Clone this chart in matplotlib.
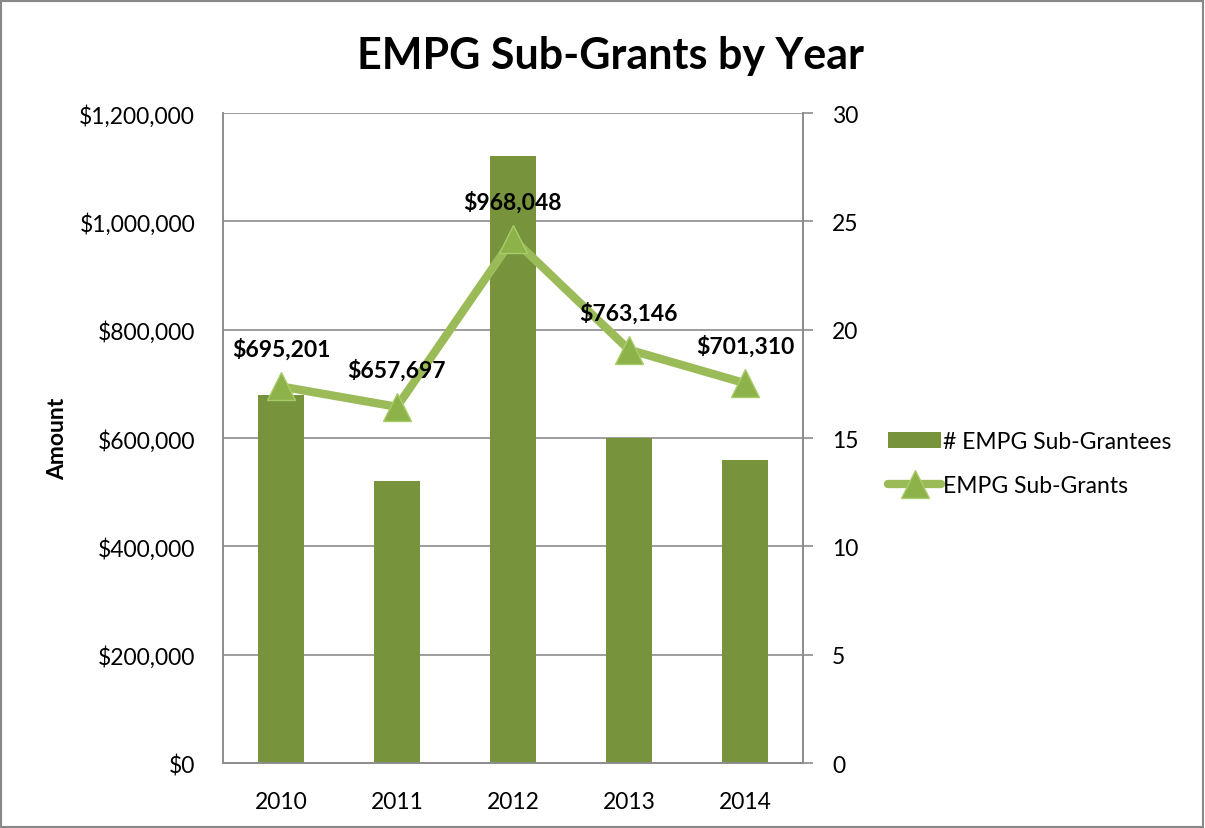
import matplotlib
matplotlib.use("Agg")
import matplotlib.pyplot as plt
from matplotlib.ticker import FuncFormatter

years = ["2010", "2011", "2012", "2013", "2014"]
grantees = [17, 13, 28, 15, 14]
amounts = [695201, 657697, 968048, 763146, 701310]

plt.rcParams["font.family"] = ["Lato", "DejaVu Sans"]
BAR = "#77933C"
LINE = "#9BBB59"
GRID = "#8C8C8C"

fig = plt.figure(figsize=(12.05, 8.29), dpi=100)
ax = fig.add_axes([0.185, 0.0784, 0.4813, 0.784])
ax2 = ax.twinx()

x = list(range(len(years)))

# bars on the secondary (count) axis, drawn underneath the line
ax2.bar(x, grantees, width=0.4, color=BAR, zorder=2, label="# EMPG Sub-Grantees")
ax2.set_ylim(0, 30)
ax2.set_yticks(range(0, 31, 5))
ax2.yaxis.grid(True, color=GRID, lw=1.2, zorder=0)
ax2.set_axisbelow(True)
ax2.tick_params(axis="y", length=7, color=GRID, width=1.2, labelsize=16.5, pad=14)

ax.set_zorder(ax2.get_zorder() + 1)
ax.patch.set_visible(False)
ln, = ax.plot(x, amounts, color=LINE, lw=6, marker="^", markersize=20,
              markerfacecolor="#8DB24A", markeredgecolor="#A9CC6A",
              markeredgewidth=1, solid_capstyle="round", label="EMPG Sub-Grants")
for xi, v in zip(x, amounts):
    ax.annotate(f"${v:,.0f}", (xi, v), xytext=(0, 27), textcoords="offset points",
                ha="center", va="center", fontsize=16.5, fontweight="bold")

ax.set_ylim(0, 1200000)
ax.set_yticks(range(0, 1200001, 200000))
ax.yaxis.set_major_formatter(FuncFormatter(lambda v, p: f"${v:,.0f}"))
ax.tick_params(axis="y", length=0, labelsize=16.5, pad=20)
ax.set_xlim(-0.5, 4.5)
ax.set_xticks(x)
ax.set_xticklabels(years)
ax.tick_params(axis="x", length=0, labelsize=16.5, pad=20)
ax2.tick_params(axis="x", length=0)
ax.set_ylabel("Amount", fontsize=16.5, fontweight="bold", labelpad=8)

for a in (ax, ax2):
    for s in a.spines.values():
        s.set_color(GRID)
        s.set_linewidth(1.2)
ax.spines["top"].set_visible(False)
ax2.spines["top"].set_visible(False)

fig.text(0.5065, 0.933, "EMPG Sub-Grants by Year", ha="center", va="center",
         fontsize=31, fontweight="bold")

h1, l1 = ax2.get_legend_handles_labels()
fig.legend(h1 + [ln], l1 + ["EMPG Sub-Grants"], loc="center left",
           bbox_to_anchor=(0.72, 0.44), frameon=False, fontsize=16.5,
           handlelength=2.3, handletextpad=0.1, labelspacing=1.0)

# outer chart border
fig.patches.append(plt.Rectangle((0.001, 0.001), 0.997, 0.997, transform=fig.transFigure,
                                 fill=False, edgecolor="#888888", lw=1.5))

fig.savefig("out.png", dpi=100)
